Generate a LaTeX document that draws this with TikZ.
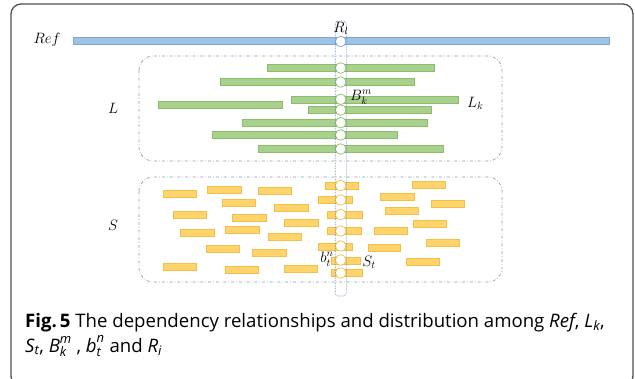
\RequirePackage{fix-cm}
\documentclass[tikz,border=0pt]{standalone}
\usepackage{amsmath}
\usepackage{fontspec}
\setmainfont{Open Sans}
\definecolor{frameC}{HTML}{505050}
\definecolor{boxC}{HTML}{8A9CB4}
\definecolor{rlC}{HTML}{5A7DB0}
\definecolor{blueF}{HTML}{9DC3E6}
\definecolor{blueD}{HTML}{7BA6D6}
\definecolor{greenF}{HTML}{A9D18E}
\definecolor{greenD}{HTML}{8CBE6A}
\definecolor{orangeF}{HTML}{FFD56B}
\definecolor{orangeD}{HTML}{F2C04A}
\tikzset{
  bar/.style={rectangle, inner sep=0pt, minimum height=7pt, line width=0.6pt},
  gbar/.style={bar, fill=greenF, draw=greenD},
  obar/.style={bar, fill=orangeF, draw=orangeD},
  rbar/.style={bar, fill=blueF, draw=blueD},
  ring/.style={circle, inner sep=0pt, minimum size=10.6pt, fill=white, line width=0.7pt},
  grpbox/.style={draw=boxC, line width=0.7pt, dash dot, rounded corners=14pt},
  lbl/.style={inner sep=0pt, font=\fontsize{15}{17}\selectfont},
  captext/.style={inner sep=0pt, anchor=base west, font=\fontsize{18.6}{22}\selectfont}
}
\begin{document}
\begin{tikzpicture}[x=1pt,y=-1pt]
\useasboundingbox (0,0) rectangle (635,378);
\clip (0,0) rectangle (635,378);
% outer frame
\draw[frameC, line width=1.3pt, rounded corners=10pt] (11,4) rectangle (633,386);
% group boxes
\draw[grpbox] (139,56) rectangle (502,161);
\draw[grpbox] (139,177) rectangle (502,282);
% Ref bar
\node[rbar, minimum width=536pt] (ref) at (341,41) {};
% green bars
\foreach \a/\b/\y [count=\i] in {267/434/68, 220/414/82, 291/458/99.3, 158/282/104.3, 308/431/110, 242/427/122.7, 212/397/135, 258/443/149}
  \node[gbar, minimum width={(\b-\a)*1pt}] (g\i) at ({(\a+\b)/2},\y) {};
% orange bars
\foreach \a/\b/\y [count=\i] in {
  163/196/194, 207/241/190, 258/291/191, 325/358/185.5, 412/445/185,
  222/255/203, 274/308/208, 318/352/200, 380/414/197, 431/464/204,
  173/206/215, 232/266/218, 327/362/214.5, 385/418/211, 284/318/223,
  413/446/224, 180/214/233, 225/259/230, 327/361/231, 374/407/231,
  268/301/237, 426/459/243, 206/239/249, 318/352/247, 368/400/248,
  252/286/253, 163/196/267, 225/258/270, 284/317/269, 331/360/261,
  406/439/262, 331/362/272.5}
  \node[obar, minimum width={(\b-\a)*1pt}] (o\i) at ({(\a+\b)/2},\y) {};
% circles
\node[ring, draw=blueD] (r0) at (340.7,41.5) {};
\foreach \y [count=\i] in {68,82,99.3,110,122.7,135,149}
  \node[ring, draw=greenD] (c\i) at (340.7,\y) {};
\foreach \y [count=\i] in {185.5,200,214.5,231,246,260,273}
  \node[ring, draw=orangeD] (s\i) at (340.7,\y) {};
% R_l column
\draw[rlC, line width=0.6pt, densely dotted, rounded corners=3pt] (335.2,21) rectangle (346.3,296);
% labels
\node[lbl] (tref) at (47,40) {$Ref$};
\node[lbl] (tR) at (341,28) {$R_l$};
\node[lbl] (tL) at (113,108) {$L$};
\node[lbl] (tS) at (113,225) {$S$};
\node[lbl, anchor=west] (tLk) at (467,103) {$L_k$};
\node[lbl, anchor=west] (tB) at (350,97) {$B_k^m$};
\node[lbl] (tb) at (327,259) {$b_t^n$};
\node[lbl] (tSt) at (369,262) {$S_t$};
% caption
\node[captext] (cap1) at (25,327) {\textbf{Fig.\,5} The dependency relationships and distribution among \textit{Ref}, $\textit{L}_{\textit{k}}$,};
\node[captext] (cap2) at (25,352) {$\textit{S}_{\textit{t}}$, $\textit{B}^{\textit{m}}_{\textit{k}}$ , $\textit{b}^{\textit{n}}_{\textit{t}}$ and $\textit{R}_{\textit{i}}$};
\end{tikzpicture}
\end{document}
